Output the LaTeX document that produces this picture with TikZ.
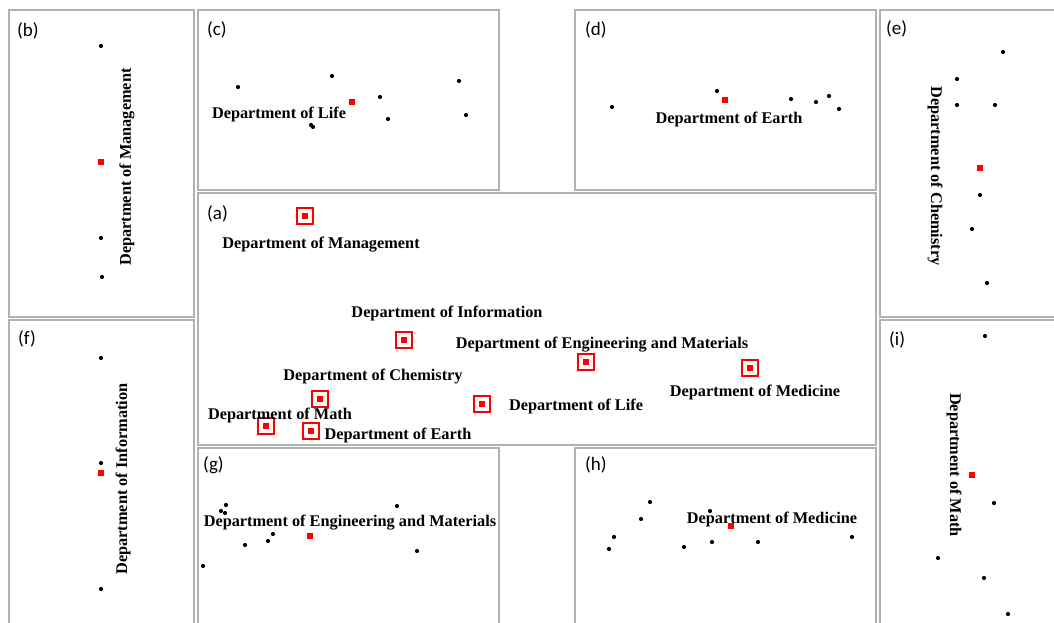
\documentclass[tikz,border=0pt]{standalone}
\usepackage{fontspec}
\setmainfont{Liberation Serif}
\newfontfamily\tagfont{Carlito}
\usetikzlibrary{positioning}

\begin{document}
\begin{tikzpicture}[x=1pt, y=-1pt,
    panel/.style={draw=gray!60, line width=1.3pt},
    tag/.style={anchor=west, inner sep=0pt, font=\tagfont\fontsize{19}{21}\selectfont},
    dept/.style={inner sep=0pt, font=\bfseries\fontsize{16.3}{18}\selectfont},
    hdept/.style={dept, yshift=-2pt},
    bdot/.style={circle, fill=black, inner sep=0pt, minimum size=4.2pt},
    rsq/.style={rectangle, fill=red, inner sep=0pt, minimum size=6.5pt},
    mbox/.style={rectangle, draw=red, line width=1.7pt, fill=white, inner sep=0pt, minimum size=15.5pt}
  ]
  \clip (0,0) rectangle (1054,623);
  \fill[white] (0,0) rectangle (1054,623);

  % panel frames
  \draw[panel] (9,10) rectangle (194,317);     % b
  \draw[panel] (198,10) rectangle (499,190);   % c
  \draw[panel] (575,10) rectangle (876,190);   % d
  \draw[panel] (880,10) rectangle (1062,317);  % e
  \draw[panel] (198,193) rectangle (876,445);  % a
  \draw[panel] (9,320) rectangle (194,632);    % f
  \draw[panel] (198,448) rectangle (499,632);  % g
  \draw[panel] (575,448) rectangle (876,632);  % h
  \draw[panel] (880,320) rectangle (1062,632); % i

  % (a) all departments
  \node[tag] (ta) at (207,214) {(a)};
  \foreach \x/\y [count=\k] in {305/216, 404/340, 320/399, 266/426, 311/431, 482/404, 586/362, 750/368} {
    \node[mbox] (am\k) at (\x,\y) {};
    \node[rsq] (ar\k) at (am\k.center) {};
  }
  \node[hdept] (amg) at (321,243) {Department of Management};
  \node[hdept] (ainf) at (447,311) {Department of Information};
  \node[hdept] (aeng) at (602,343) {Department of Engineering and Materials};
  \node[hdept] (achm) at (373,375) {Department of Chemistry};
  \node[hdept] (amth) at (280,413) {Department of Math};
  \node[hdept] (aear) at (398,433) {Department of Earth};
  \node[hdept] (alif) at (576,404) {Department of Life};
  \node[hdept] (amed) at (755,390) {Department of Medicine};

  % (b) management
  \node[tag] (tb) at (17,31) {(b)};
  \foreach \x/\y [count=\k] in {101/46, 101/238, 102/277}
    \node[bdot] (bd\k) at (\x,\y) {};
  \node[rsq] (br) at (101,162) {};
  \node[dept, rotate=90] (bl) at (127,167) {Department of Management};

  % (c) life
  \node[tag] (tc) at (207,30) {(c)};
  \foreach \x/\y [count=\k] in {238/87, 332/76, 459/81, 380/97, 388/119, 466/115, 311/125, 313/127}
    \node[bdot] (cd\k) at (\x,\y) {};
  \node[rsq] (cr) at (352,102) {};
  \node[hdept] (cl) at (279,112) {Department of Life};

  % (d) earth
  \node[tag] (td) at (585,30) {(d)};
  \foreach \x/\y [count=\k] in {612/107, 717/91, 791/99, 816/102, 829/96, 839/109}
    \node[bdot] (dd\k) at (\x,\y) {};
  \node[rsq] (dr) at (725,100) {};
  \node[hdept] (dl) at (729,117) {Department of Earth};

  % (e) chemistry
  \node[tag] (te) at (886,29) {(e)};
  \foreach \x/\y [count=\k] in {1003/52, 957/79, 957/105, 995/105, 980/195, 972/229, 987/283}
    \node[bdot] (ed\k) at (\x,\y) {};
  \node[rsq] (er) at (980,168) {};
  \node[dept, rotate=-90] (el) at (935,176) {Department of Chemistry};

  % (f) information
  \node[tag] (tf) at (18,339) {(f)};
  \foreach \x/\y [count=\k] in {101/358, 101/463, 101/589}
    \node[bdot] (fd\k) at (\x,\y) {};
  \node[rsq] (fr) at (101,473) {};
  \node[dept, rotate=90] (fl) at (123,479) {Department of Information};

  % (g) engineering and materials
  \node[tag] (tg) at (203,465) {(g)};
  \foreach \x/\y [count=\k] in {221/511, 226/505, 225/513, 397/506, 273/534, 268/541, 245/545, 417/551, 203/566}
    \node[bdot] (gd\k) at (\x,\y) {};
  \node[rsq] (gr) at (310,536) {};
  \node[hdept] (gl) at (350,521) {Department of Engineering and Materials};

  % (h) medicine
  \node[tag] (th) at (585,465) {(h)};
  \foreach \x/\y [count=\k] in {650/502, 641/519, 614/537, 609/549, 684/547, 712/542, 758/542, 852/537, 710/511}
    \node[bdot] (hd\k) at (\x,\y) {};
  \node[rsq] (hr) at (731,526) {};
  \node[hdept] (hl) at (772,517) {Department of Medicine};

  % (i) math
  \node[tag] (ti) at (889,340) {(i)};
  \foreach \x/\y [count=\k] in {985/336, 994/503, 938/558, 984/578, 1008/614}
    \node[bdot] (id\k) at (\x,\y) {};
  \node[rsq] (ir) at (972,475) {};
  \node[dept, rotate=-90] (il) at (954,465) {Department of Math};
\end{tikzpicture}
\end{document}
